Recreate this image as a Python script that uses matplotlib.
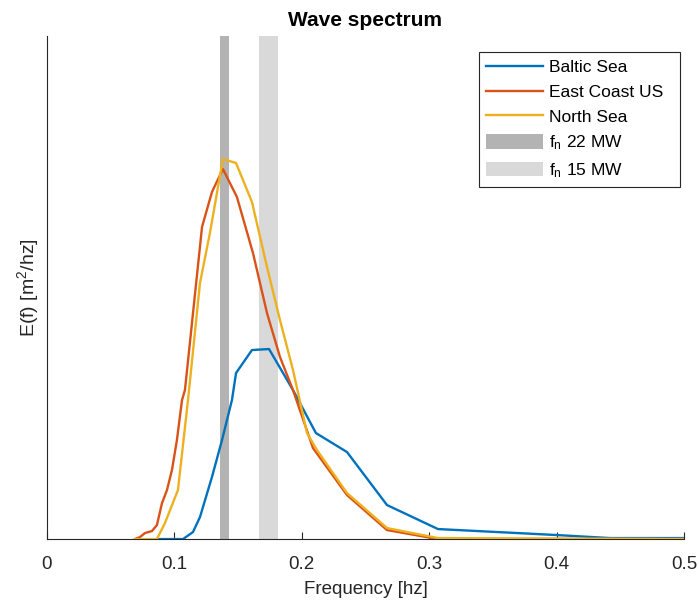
import numpy as np
import matplotlib
matplotlib.use('Agg')
import matplotlib.pyplot as plt

plt.rcParams['font.family'] = ['Liberation Sans', 'DejaVu Sans']
plt.rcParams['mathtext.default'] = 'regular'

# frequency [hz] and spectral energy (arbitrary units)
f_baltic = [0.0863, 0.1068, 0.1146, 0.1201, 0.1295, 0.1374, 0.1452, 0.1484, 0.1609,
            0.1743, 0.1931, 0.2111, 0.2355, 0.2669, 0.3069, 0.4003, 0.4419, 0.4992]
e_baltic = [0.0, 0.0, 0.07, 0.22, 0.62, 0.99, 1.39, 1.66, 1.89,
            1.90, 1.49, 1.06, 0.87, 0.34, 0.10, 0.04, 0.01, 0.01]

f_east = [0.0691, 0.0730, 0.0769, 0.0824, 0.0863, 0.0903, 0.0942, 0.0981, 0.1020,
          0.1060, 0.1083, 0.1217, 0.1295, 0.1381, 0.1491, 0.1617, 0.1727, 0.1829,
          0.1931, 0.2088, 0.2355, 0.2669, 0.3069, 0.5]
e_east = [0.0, 0.02, 0.06, 0.08, 0.14, 0.36, 0.49, 0.69, 0.99,
          1.39, 1.49, 3.12, 3.47, 3.70, 3.42, 2.86, 2.26, 1.82,
          1.49, 0.91, 0.44, 0.09, 0.0, 0.0]

f_north = [0.0691, 0.0863, 0.0926, 0.1028, 0.1107, 0.1201, 0.1279, 0.1381, 0.1484,
           0.1609, 0.1727, 0.1829, 0.1931, 0.2041, 0.2119, 0.2355, 0.2669, 0.3069, 0.5]
e_north = [0.0, 0.0, 0.16, 0.49, 1.39, 2.56, 3.06, 3.80, 3.76,
           3.37, 2.72, 2.19, 1.69, 1.06, 0.89, 0.46, 0.11, 0.01, 0.0]

# natural frequency bands of the turbines
fn_22 = (0.1358, 0.1429)
fn_15 = (0.1664, 0.1813)

fig = plt.figure(figsize=(6.99, 6.05), dpi=100)
ax = fig.add_axes([0.0672, 0.109, 0.9113, 0.8315])

ax.axvspan(fn_22[0], fn_22[1], color='#b3b3b3', lw=0, label=r'f$_n$ 22 MW', zorder=1)
ax.axvspan(fn_15[0], fn_15[1], color='#d9d9d9', lw=0, label=r'f$_n$ 15 MW', zorder=1)

ax.plot(f_baltic, e_baltic, color='#0072BD', lw=1.7, label='Baltic Sea', zorder=3)
ax.plot(f_east, e_east, color='#D95319', lw=1.7, label='East Coast US  ', zorder=3)
ax.plot(f_north, e_north, color='#EDB120', lw=1.7, label='North Sea', zorder=3)

ax.set_xlim(0, 0.5)
ax.set_ylim(0, 5.03)
ax.set_xticks([0, 0.1, 0.2, 0.3, 0.4, 0.5])
ax.set_xticklabels(['0', '0.1', '0.2', '0.3', '0.4', '0.5'])
ax.set_yticks([])
ax.tick_params(axis='x', direction='in', length=5, colors='#262626', labelsize=13.5, pad=12)
for s in ['top', 'right']:
    ax.spines[s].set_visible(False)
for s in ['left', 'bottom']:
    ax.spines[s].set_color('#262626')
    ax.spines[s].set_linewidth(0.8)

ax.set_title('Wave spectrum', fontsize=15, fontweight='bold', pad=7)
ax.set_xlabel('Frequency [hz]', fontsize=13.5, color='#262626', labelpad=6)
ax.set_ylabel(r'E(f) [m$^2$/hz]', fontsize=14, color='#262626', labelpad=4)

h, l = ax.get_legend_handles_labels()
order = [2, 3, 4, 0, 1]
leg = ax.legend([h[i] for i in order], [l[i] for i in order], loc='upper right',
                bbox_to_anchor=(0.9937, 0.968), borderaxespad=0,
                fontsize=12.5, fancybox=False, edgecolor='#262626', framealpha=1,
                handlelength=3.3, handleheight=0.9, labelspacing=0.5,
                handletextpad=0.35)
leg.get_frame().set_linewidth(0.8)

fig.savefig('out.png', dpi=100)
